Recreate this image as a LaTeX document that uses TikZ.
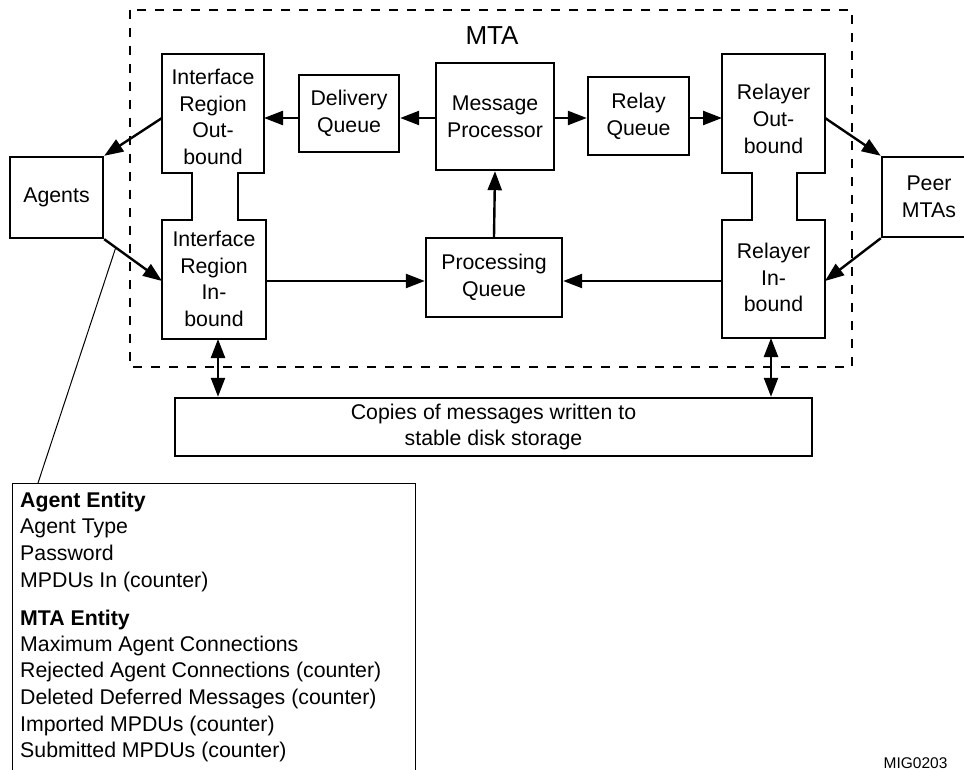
\documentclass[tikz,border=0pt]{standalone}
\usepackage{fontspec}
\setmainfont{Liberation Sans}
\usetikzlibrary{arrows.meta}
\newcommand\lblfont{\fontsize{21.3}{26.7}\selectfont}
\begin{document}
\begin{tikzpicture}[x=1pt,y=-1pt,
  boxnode/.style={draw,line width=2.4pt,align=center,font=\lblfont,inner sep=0pt},
  ghost/.style={inner sep=0pt,outer sep=0pt},
  lbl/.style={align=center,font=\lblfont,inner sep=0pt},
  tip/.tip={Triangle[length=19pt,width=14pt]},
  flow/.style={line width=2.4pt,-tip},
  both/.style={line width=2.4pt,tip-tip},
  outline/.style={line width=2.4pt,line join=miter},
  mtaframe/.style={line width=1.8pt,dash pattern=on 9pt off 9pt},
  legtext/.style={anchor=base west,font=\lblfont,inner sep=0pt}
]
\useasboundingbox (0,0) rectangle (964,770);
\clip (0,0) rectangle (964,770);

% MTA boundary
\draw[mtaframe] (130,10) rectangle (852,367);
\node[font=\fontsize{26}{30}\selectfont,inner sep=0pt] (mta) at (492,36) {MTA};

% queues and processor
\node[boxnode,minimum width=100pt,minimum height=77pt] (dq) at (349,113.5) {Delivery\\Queue};
\node[boxnode,minimum width=118pt,minimum height=107pt] (mp) at (495,116.5) {Message\\Processor};
\node[boxnode,minimum width=101pt,minimum height=78pt] (rq) at (638.5,116) {Relay\\Queue};
\node[boxnode,minimum width=136pt,minimum height=79pt] (pq) at (494,277.5) {Processing\\Queue};

% outside parties
\node[boxnode,minimum width=93pt,minimum height=81pt] (ag) at (56.5,197.5) {Agents};
\node[boxnode,minimum width=94pt,minimum height=80pt] (peer) at (929,197) {Peer\\MTAs};

% disk storage
\node[boxnode,minimum width=637pt,minimum height=58pt] (disk) at (493.5,427) {Copies of messages written to\\stable disk storage};

% interface region (outbound above, inbound below)
\node[ghost,minimum width=102pt,minimum height=119pt] (iro) at (213,113.5) {};
\node[ghost,minimum width=104pt,minimum height=119pt] (iri) at (214,279.5) {};
\draw[outline] (162,54) -- (264,54) -- (264,173) -- (238,173) -- (238,220) -- (266,220)
  -- (266,339) -- (162,339) -- (162,220) -- (192,220) -- (192,173) -- (162,173) -- cycle;
\node[lbl] (iroT) at (213,117) {Interface\\Region\\Out-\\bound};
\node[lbl] (iriT) at (214,279) {Interface\\Region\\In-\\bound};

% relayer (outbound above, inbound below)
\node[ghost,minimum width=103pt,minimum height=119pt] (rlo) at (773.5,113.5) {};
\node[ghost,minimum width=103pt,minimum height=118pt] (rli) at (773.5,279) {};
\draw[outline] (722,54) -- (825,54) -- (825,173) -- (797,173) -- (797,220) -- (825,220)
  -- (825,338) -- (722,338) -- (722,220) -- (752,220) -- (752,173) -- (722,173) -- cycle;
\node[lbl] (rloT) at (773.5,119) {Relayer\\Out-\\bound};
\node[lbl] (rliT) at (773.5,277.5) {Relayer\\In-\\bound};

% rows and columns used by the connectors
\coordinate (rowtop) at (0,118);
\coordinate (rowbot) at (0,281);
\coordinate (colL) at (218,0);
\coordinate (colR) at (771,0);

% message flow
\draw[flow] (mp.west |- rowtop) -- (dq.east |- rowtop);
\draw[flow] (dq.west |- rowtop) -- (iro.east |- rowtop);
\draw[flow] (mp.east |- rowtop) -- (rq.west |- rowtop);
\draw[flow] (rq.east |- rowtop) -- (rlo.west |- rowtop);
\draw[flow] (pq.north) -- (mp.south);
\draw[flow] (iri.east |- rowbot) -- (pq.west |- rowbot);
\draw[flow] (rli.west |- rowbot) -- (pq.east |- rowbot);
\draw[flow] (iro.west |- rowtop) -- (ag.north east);
\draw[flow] (ag.south east) -- (iri.west |- rowbot);
\draw[flow] (rlo.east |- rowtop) -- (peer.north west);
\draw[flow] (peer.south west) -- (rli.east |- rowbot);

% disk copies
\draw[both] (colL |- iri.south) -- (colL |- disk.north);
\draw[both] (colR |- rli.south) -- (colR |- disk.north);

% managed objects legend
\node[draw,line width=1.3pt,minimum width=403pt,minimum height=320pt,anchor=north west,inner sep=0pt] (legend) at (12,483) {};
\path (ag.south east) -- (iri.west |- rowbot) coordinate[pos=0.2] (tap);
\draw[line width=1pt] (tap) -- ([xshift=26pt]legend.north west);
\foreach \txt/\yb [count=\i] in {{\bfseries Agent Entity}/507, Agent Type/533, Password/560,
    MPDUs In (counter)/587, {\bfseries MTA Entity}/625, Maximum Agent Connections/651,
    Rejected Agent Connections (counter)/677, Deleted Deferred Messages (counter)/704,
    Imported MPDUs (counter)/731, Submitted MPDUs (counter)/757}
  \node[legtext] (leg\i) at (20,\yb) {\txt};

% figure tag
\node[font=\fontsize{15.5}{18}\selectfont,anchor=base,inner sep=0pt] (tag) at (915.5,768.5) {MIG0203};
\end{tikzpicture}
\end{document}
